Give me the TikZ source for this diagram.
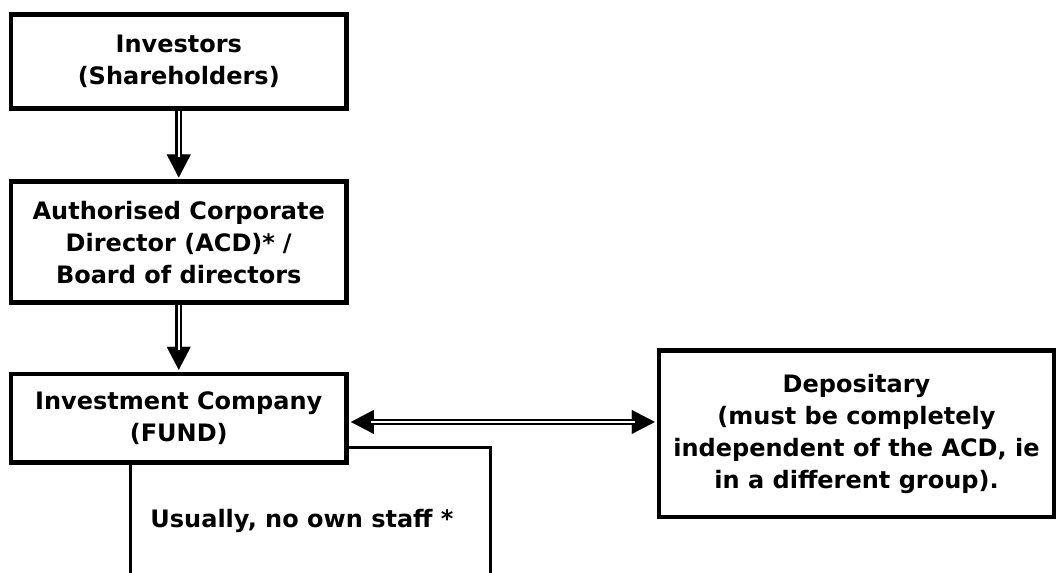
\documentclass[tikz,border=0pt]{standalone}
\usepackage{fontspec}
\setmainfont{DejaVu Sans}
\usetikzlibrary{arrows.meta,calc}

\tikzset{
  box/.style={draw, rectangle, line width=4.5pt, inner sep=0pt, align=center,
    font=\bfseries\fontsize{24}{32}\selectfont},
  label/.style={inner sep=0pt, align=center, font=\bfseries\fontsize{24}{32}\selectfont},
  dblshaft/.style={double, line width=2.3pt, double distance=2.3pt},
  headonly/.style={line width=0.01pt},
  openbox/.style={line width=3pt},
  >={Triangle[length=23pt,width=24pt]}
}

\begin{document}
\begin{tikzpicture}[x=1pt,y=-1pt]
\useasboundingbox (0,0) rectangle (1058,573);

% the fund structure
\node[box, minimum width=335.9pt, minimum height=93.6pt] (inv) at (178.75,61.5)
  {Investors\\(Shareholders)};
\node[box, minimum width=335.9pt, minimum height=120.8pt] (acd) at (178.75,242.1)
  {Authorised Corporate\\Director (ACD)*\,\,/\\Board of directors};
\node[box, minimum width=335.9pt, minimum height=88.3pt] (fund) at (178.75,418.15)
  {Investment Company\\(FUND)};
\node[box, minimum width=395pt, minimum height=166.7pt] (dep) at (856.5,433.65)
  {Depositary\\(must be completely\\independent of the ACD, ie\\in a different group).};

% downward links
\draw[headonly, ->, shorten >=2pt] (inv.south) -- (acd.north);
\draw[dblshaft, shorten >=22pt] (inv.south) -- (acd.north);
\draw[headonly, ->, shorten >=2pt] (acd.south) -- (fund.north);
\draw[dblshaft, shorten >=22pt] (acd.south) -- (fund.north);

% fund <-> depositary
\coordinate (fl) at ([yshift=-3.8pt]fund.east);
\coordinate (dl) at (fl -| dep.west);
\draw[headonly, <->, shorten <=2pt, shorten >=2pt] (fl) -- (dl);
\draw[dblshaft, shorten <=22pt, shorten >=22pt] (fl) -- (dl);

% staff box, open at the bottom
\coordinate (ubl) at (130.5,573);
\coordinate (ubr) at (490.7,573);
\coordinate (utr) at (490.7,447.5);
\draw[openbox] (fund.south -| ubl) -- (ubl);
\draw[openbox] (fund.east |- utr) -- (utr) -- (ubr);
\node[label] (staff) at (302,521) {Usually, no own staff *};
\end{tikzpicture}
\end{document}
